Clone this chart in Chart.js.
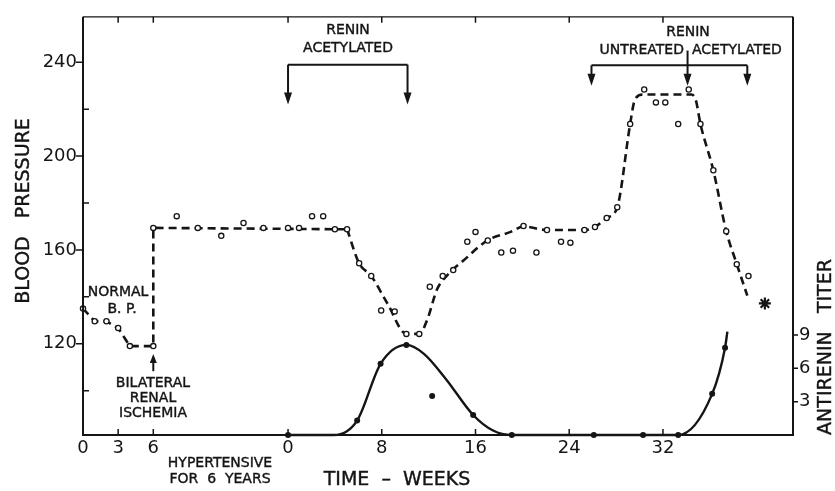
<!DOCTYPE html>
<html>
<head>
<meta charset="utf-8">
<script src="https://cdn.jsdelivr.net/npm/chart.js@4.4.1/dist/chart.umd.min.js"></script>
<style>
  html, body { margin: 0; padding: 0; background: #fff; }
  #chart { display: block; }
</style>
</head>
<body>
<canvas id="chart" width="835" height="491"></canvas>
<script>
// x is in weeks from the start of the renin injections (week 0).
// The short "normal" record before the ischemia sits further left on its own little scale.
const NORMAL_SHIFT = -17.5;

const normalWeeks = [0, 1, 2, 3, 4, 6];
const normalBP = [135, 129.6, 129.6, 126.7, 119, 119];

// open circles: blood pressure readings
const bpWeeks = [-11.5, -9.5, -7.7, -5.7, -3.8, -2.1, 0, 0.94, 2.05, 3, 4, 5.04, 6.07, 7.1, 7.95, 9.1,
  10.1, 11.2, 12.1, 13.2, 14.1, 15.3, 16, 17.05, 18.2, 19.2, 20.1, 21.2, 22.1, 23.3, 24.1, 25.3,
  26.2, 27.2, 28.1, 29.2, 30.4, 31.4, 32.2, 33.3, 34.2, 35.2, 36.3, 37.4, 38.3, 39.3];
const bpValues = [169.4, 174.4, 169.4, 166, 171.5, 169.4, 169.4, 169.4, 174.4, 174.4, 168.8, 168.8, 154.3, 148.9, 134.2, 133.8,
  124.2, 124.2, 144.3, 148.9, 151.4, 163.5, 167.7, 164, 158.9, 159.7, 170.2, 158.9, 168.5, 163.5, 163.1, 168.5,
  169.8, 173.6, 178.2, 213.7, 228.4, 222.9, 222.9, 213.7, 228.4, 213.7, 194, 168, 153.9, 148.9];

// dashed trend drawn through the readings
const trendWeeks = [-11.5, 5.04, 6.07, 7.1, 8.5, 10.1, 11.2, 11.9, 12.7, 13.6, 15, 17, 19, 20.1, 22.1, 25.3,
  26.2, 27.2, 28.1, 29.2, 29.6, 30.3, 34.4, 34.8, 35.2, 36.3, 37.4, 38.3, 39.2];
const trendBP = [169.4, 168.8, 154.3, 148.9, 137, 124.2, 124.2, 130.5, 143, 149.3, 155.6, 164, 167.7, 170, 168.5, 168.5,
  169.8, 173.6, 178.2, 213.7, 224, 226.3, 226.3, 224, 213.7, 194, 168, 154, 140.5];

// filled dots: antirenin titer
const titerWeeks = [0, 5.9, 7.9, 10.1, 12.3, 15.8, 19.1, 26.1, 30.3, 33.3, 36.2, 37.3];
const titerValues = [0, 1.3, 6.4, 8.1, 3.5, 1.8, 0, 0, 0, 0, 3.7, 7.85];

const titerCurveWeeks = [0, 3.9, 5.9, 7.9, 10.1, 11.6, 13.5, 15.8, 17.5, 19.1, 33.3, 36.2, 37.3, 37.5];
const titerCurveValues = [0, 0, 1.3, 6.4, 8.1, 7.3, 5.0, 1.8, 0.4, 0, 0, 3.7, 7.85, 9.3];

const starWeeks = [40.7];
const starBP = [137.2];

const normalTicks = [0, 3, 6];
const weekTicks = [0, 8, 16, 24, 32];
const bpTicks = [100, 120, 140, 160, 180, 200, 220, 240];
const bpLabels = [120, 160, 200, 240];
const titerTicks = [3, 6, 9];

const INK = "#151515";
const FONT = "DejaVu Sans";

const pts = (xs, ys, shift = 0) => xs.map((x, i) => ({ x: x + shift, y: ys[i] }));

const xTickValues = normalTicks.map(v => v + NORMAL_SHIFT).concat(weekTicks);
const xTickLabels = normalTicks.concat(weekTicks).map(String);

const trendStraight = pts(normalWeeks, normalBP, NORMAL_SHIFT).concat(pts(trendWeeks.slice(0, 2), trendBP.slice(0, 2)));
const trendCurve = pts(trendWeeks.slice(1), trendBP.slice(1));

function arrowDown(ctx, x, yFrom, yTip) {
  ctx.beginPath();
  ctx.moveTo(x, yFrom);
  ctx.lineTo(x, yTip - 8);
  ctx.stroke();
  ctx.beginPath();
  ctx.moveTo(x - 4, yTip - 12);
  ctx.lineTo(x + 4, yTip - 12);
  ctx.lineTo(x, yTip);
  ctx.closePath();
  ctx.fill();
}

const decor = {
  id: "decor",
  afterDraw(chart) {
    const { ctx, chartArea: a, scales } = chart;
    const x = scales.x, y = scales.y, yr = scales.yr;
    ctx.save();
    ctx.strokeStyle = INK;
    ctx.fillStyle = INK;

    // frame
    ctx.lineWidth = 2;
    ctx.beginPath();
    ctx.moveTo(a.left, a.top);
    ctx.lineTo(a.left, a.bottom);
    ctx.lineTo(a.right, a.bottom);
    ctx.lineTo(a.right, a.top);
    ctx.stroke();
    ctx.lineWidth = 1.3;
    ctx.beginPath();
    ctx.moveTo(a.left, a.top);
    ctx.lineTo(a.right, a.top);
    ctx.stroke();

    // tick marks
    ctx.lineWidth = 1.5;
    ctx.beginPath();
    xTickValues.forEach(v => {
      const px = x.getPixelForValue(v);
      if (px < a.left + 2) return;
      ctx.moveTo(px, a.bottom); ctx.lineTo(px, a.bottom - 6);
      ctx.moveTo(px, a.top); ctx.lineTo(px, a.top + 6);
    });
    bpTicks.forEach(v => {
      const py = y.getPixelForValue(v);
      if (bpLabels.includes(v)) { ctx.moveTo(a.left - 7, py); ctx.lineTo(a.left, py); }
      else { ctx.moveTo(a.left, py); ctx.lineTo(a.left + 6, py); }
    });
    titerTicks.forEach(v => {
      const py = yr.getPixelForValue(v);
      ctx.moveTo(a.right, py); ctx.lineTo(a.right + 5, py);
    });
    ctx.stroke();

    // renin brackets
    ctx.lineWidth = 2;
    const b1 = y.getPixelForValue(239), t1 = y.getPixelForValue(222);
    const xa = x.getPixelForValue(0), xb = x.getPixelForValue(10.2);
    ctx.beginPath(); ctx.moveTo(xa, b1); ctx.lineTo(xb, b1); ctx.stroke();
    arrowDown(ctx, xa, b1, t1);
    arrowDown(ctx, xb, b1, t1);

    const b2 = y.getPixelForValue(238.7), t2 = y.getPixelForValue(230);
    const xc = x.getPixelForValue(25.9), xd = x.getPixelForValue(34.1), xe = x.getPixelForValue(39.2);
    ctx.beginPath(); ctx.moveTo(xc, b2); ctx.lineTo(xe, b2); ctx.stroke();
    arrowDown(ctx, xc, b2, t2);
    arrowDown(ctx, xd, y.getPixelForValue(245), t2);
    arrowDown(ctx, xe, b2, t2);

    // ischemia arrow (up)
    const xi = x.getPixelForValue(6 + NORMAL_SHIFT);
    const yi0 = y.getPixelForValue(108.3), yi1 = y.getPixelForValue(115.6);
    ctx.beginPath(); ctx.moveTo(xi, yi0); ctx.lineTo(xi, yi1 + 6); ctx.stroke();
    ctx.beginPath();
    ctx.moveTo(xi - 3.5, yi1 + 9); ctx.lineTo(xi + 3.5, yi1 + 9); ctx.lineTo(xi, yi1);
    ctx.closePath(); ctx.fill();

    // text
    ctx.textBaseline = "middle";
    ctx.lineWidth = 0.4;
    const text = (s, px, py, align = "center", size = 14) => {
      ctx.font = size + "px '" + FONT + "'";
      ctx.textAlign = align;
      ctx.fillText(s, px, py);
      ctx.strokeText(s, px, py);
    };
    text("RENIN", 348, 30);
    text("ACETYLATED", 348, 48);
    text("RENIN", 688, 32);
    text("UNTREATED", 684, 50, "right");
    text("ACETYLATED", 692, 50, "left");
    text("NORMAL", 118, 292);
    text("B. P.", 122, 309);
    text("BILATERAL", 153, 383);
    text("RENAL", 153, 398);
    text("ISCHEMIA", 153, 413);
    text("HYPERTENSIVE", 220, 463);
    text("FOR  6  YEARS", 220, 479);
    text("TIME  –  WEEKS", 397, 480, "center", 19);

    ctx.save();
    ctx.translate(24, 211);
    ctx.rotate(-Math.PI / 2);
    text("BLOOD   PRESSURE", 0, 0, "center", 19);
    ctx.restore();
    ctx.save();
    ctx.translate(826, 347);
    ctx.rotate(-Math.PI / 2);
    text("ANTIRENIN   TITER", 0, 0, "center", 19);
    ctx.restore();

    ctx.restore();
  }
};

const tickFont = { family: FONT, size: 18 };

new Chart(document.getElementById("chart"), {
  type: "line",
  data: {
    datasets: [
      {
        data: pts(starWeeks, starBP),
        showLine: false,
        pointStyle: "star",
        pointRadius: 6,
        borderWidth: 2.2,
        borderColor: INK,
        clip: false
      },
      {
        data: pts(normalWeeks, normalBP, NORMAL_SHIFT).concat(pts(bpWeeks, bpValues)),
        showLine: false,
        pointRadius: 2.6,
        borderWidth: 1.3,
        borderColor: INK,
        backgroundColor: "#fff",
        clip: false
      },
      {
        data: pts(titerWeeks, titerValues),
        yAxisID: "yr",
        showLine: false,
        pointRadius: 3,
        borderWidth: 0,
        backgroundColor: INK,
        clip: false
      },
      {
        data: trendStraight,
        borderColor: INK,
        borderWidth: 2.6,
        borderDash: [8, 5],
        tension: 0,
        pointRadius: 0
      },
      {
        data: trendCurve,
        borderColor: INK,
        borderWidth: 2.6,
        borderDash: [8, 5],
        cubicInterpolationMode: "monotone",
        pointRadius: 0
      },
      {
        data: pts(titerCurveWeeks, titerCurveValues),
        yAxisID: "yr",
        borderColor: INK,
        borderWidth: 2.4,
        cubicInterpolationMode: "monotone",
        pointRadius: 0,
        clip: false
      }
    ]
  },
  options: {
    responsive: false,
    animation: false,
    layout: { padding: { top: 9, left: 0, right: 0, bottom: 0 } },
    plugins: { legend: { display: false }, tooltip: { enabled: false } },
    scales: {
      x: {
        type: "linear",
        min: NORMAL_SHIFT,
        max: 43.1,
        afterBuildTicks: s => { s.ticks = xTickValues.map(v => ({ value: v })); },
        afterFit: s => { s.height = 56; },
        ticks: {
          callback: (v, i) => xTickLabels[i],
          font: tickFont, color: INK, padding: 3, autoSkip: false, maxRotation: 0
        },
        grid: { display: false, drawTicks: false },
        border: { display: false }
      },
      y: {
        position: "left",
        min: 81.1,
        max: 259.4,
        afterBuildTicks: s => { s.ticks = bpTicks.map(v => ({ value: v })); },
        afterFit: s => { s.width = 83; },
        ticks: {
          callback: v => (bpLabels.includes(v) ? String(v) : ""),
          font: tickFont, color: INK, padding: 6
        },
        grid: { display: false, drawTicks: false },
        border: { display: false }
      },
      yr: {
        position: "right",
        min: 0,
        max: 37.6,
        afterBuildTicks: s => { s.ticks = titerTicks.map(v => ({ value: v })); },
        afterFit: s => { s.width = 42; },
        ticks: { font: tickFont, color: INK, padding: 6 },
        grid: { display: false, drawTicks: false },
        border: { display: false }
      }
    }
  },
  plugins: [decor]
});
</script>
</body>
</html>
